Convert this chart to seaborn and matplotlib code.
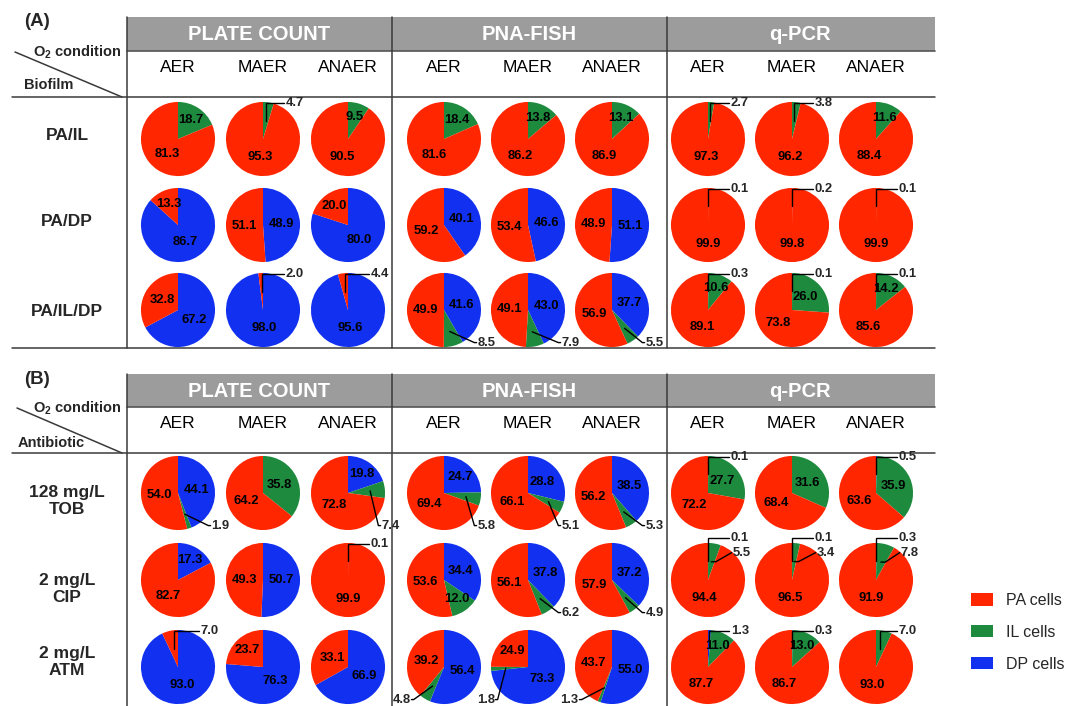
import numpy as np
import matplotlib
matplotlib.use("Agg")
import matplotlib.pyplot as plt
import seaborn as sns
from matplotlib.patches import Patch, Rectangle

# ---------------- data ----------------
methods = ["PLATE COUNT", "PNA-FISH", "q-PCR"]
o2_conditions = ["AER", "MAER", "ANAER"]
cell_types = ["PA cells", "IL cells", "DP cells"]
biofilm_rows = ["PA/IL", "PA/DP", "PA/IL/DP"]
antibiotic_rows = ["128 mg/L\nTOB", "2 mg/L\nCIP", "2 mg/L\nATM"]

# columns: PLATE COUNT (AER, MAER, ANAER), PNA-FISH (...), q-PCR (...)
A_PA = [[81.3, 95.3, 90.5, 81.6, 86.2, 86.9, 97.3, 96.2, 88.4],
        [13.3, 51.1, 20.0, 59.2, 53.4, 48.9, 99.9, 99.8, 99.9],
        [32.8, 2.0, 4.4, 49.9, 49.1, 56.9, 89.1, 73.8, 85.6]]
A_IL = [[18.7, 4.7, 9.5, 18.4, 13.8, 13.1, 2.7, 3.8, 11.6],
        [0, 0, 0, 0, 0, 0, 0, 0, 0],
        [0, 0, 0, 8.5, 7.9, 5.5, 10.6, 26.0, 14.2]]
A_DP = [[0, 0, 0, 0, 0, 0, 0, 0, 0],
        [86.7, 48.9, 80.0, 40.1, 46.6, 51.1, 0.1, 0.2, 0.1],
        [67.2, 98.0, 95.6, 41.6, 43.0, 37.7, 0.3, 0.1, 0.1]]

B_PA = [[54.0, 64.2, 72.8, 69.4, 66.1, 56.2, 72.2, 68.4, 63.6],
        [82.7, 49.3, 99.9, 53.6, 56.1, 57.9, 94.4, 96.5, 91.9],
        [7.0, 23.7, 33.1, 39.2, 24.9, 43.7, 87.7, 86.7, 93.0]]
B_IL = [[1.9, 35.8, 7.4, 5.8, 5.1, 5.3, 27.7, 31.6, 35.9],
        [0, 0, 0, 12.0, 6.2, 4.9, 5.5, 3.4, 7.8],
        [0, 0, 0, 4.8, 1.8, 1.3, 11.0, 13.0, 7.0]]
B_DP = [[44.1, 0, 19.8, 24.7, 28.8, 38.5, 0.1, 0, 0.5],
        [17.3, 50.7, 0.1, 34.4, 37.8, 37.2, 0.1, 0.1, 0.3],
        [93.0, 76.3, 66.9, 56.4, 73.3, 55.0, 1.3, 0.3, 0]]

# ---------------- style ----------------
sns.set_theme(style="white")
plt.rcParams['font.family'] = ['Liberation Sans', 'DejaVu Sans']
plt.rcParams['mathtext.fontset'] = 'custom'
plt.rcParams['mathtext.rm'] = 'Liberation Sans'
plt.rcParams['mathtext.bf'] = 'Liberation Sans:bold'

palette = sns.color_palette(["#FF2600", "#1E8A3E", "#1230F0"])  # PA, IL, DP
PA_C, IL_C, DP_C = palette
LINE_C = "#3a3a3a"

W, H = 1077, 706
fig = plt.figure(figsize=(W / 100, H / 100), dpi=100)
bg = fig.add_axes([0, 0, 1, 1])
bg.set_xlim(0, W)
bg.set_ylim(H, 0)
bg.axis('off')

col_x = [178, 263, 348, 444, 528, 612, 708, 792, 876]
method_x = [259, 529, 800]
vlines_x = [127, 392, 667]
x_left, x_right = 12, 935

VAL_FS = 9.4


def draw_pie(cx, cy, dp, il, pa):
    ax = fig.add_axes([(cx - 50) / W, 1 - (cy + 50) / H, 100 / W, 100 / H])
    vals = [dp, il, pa]
    wedges, _ = ax.pie(vals, colors=[DP_C, IL_C, PA_C], startangle=90,
                       counterclock=False, radius=1,
                       wedgeprops=dict(linewidth=0))
    ax.set_xlim(-1.35, 1.35)
    ax.set_ylim(-1.35, 1.35)
    ax.set_aspect('equal')
    ax.axis('off')
    top_leaders, other_leaders = [], []
    for w, v in zip(wedges, vals):
        if v <= 0:
            continue
        mid = np.deg2rad((w.theta1 + w.theta2) / 2)
        label = f"{v:.1f}"
        if v >= 9:
            r = 0.62 if v < 25 else 0.5
            ax.text(r * np.cos(mid), r * np.sin(mid), label, ha='center',
                    va='center', fontsize=VAL_FS, fontweight='bold',
                    color='black')
        elif np.sin(mid) > 0.8:
            top_leaders.append((mid, label))
        else:
            other_leaders.append((mid, label))
    for k, (mid, label) in enumerate(top_leaders):
        axx = 0.5 * np.cos(mid)
        ayy = 0.5 * np.sin(mid)
        if k == 0:
            yt = 0.98 if len(top_leaders) == 1 else 1.13
            ax.plot([axx, axx, 0.58], [ayy, yt, yt], color='black', lw=1.0,
                    solid_joinstyle='miter', clip_on=False)
            ax.text(0.62, yt, label, ha='left', va='center', fontsize=VAL_FS,
                    fontweight='bold', clip_on=False)
        else:
            yt = 0.74
            ax.plot([axx, axx + 0.12, 0.64], [ayy, ayy, yt], color='black',
                    lw=1.0, clip_on=False)
            ax.text(0.66, yt, label, ha='left', va='center', fontsize=VAL_FS,
                    fontweight='bold', clip_on=False)
    for mid, label in other_leaders:
        axx = 0.6 * np.cos(mid)
        ayy = 0.6 * np.sin(mid)
        s = 1 if np.cos(mid) >= -0.05 else -1
        tx, ty = 0.9 * s, -0.88
        ax.plot([axx, tx - 0.08 * s, tx - 0.02 * s], [ayy, ty, ty],
                color='black', lw=1.0, clip_on=False)
        ax.text(tx, ty, label, ha='left' if s > 0 else 'right', va='center',
                fontsize=VAL_FS, fontweight='bold', clip_on=False)


panels = [
    dict(tag="(A)", tag_y=22, bar=(17, 51), sub_y=68, line_y=97,
         rows_y=[139, 225, 310], label_y=[136, 222, 311], bottom=348,
         bottom_line=True,
         diag=((15, 52), (122, 97)), o2_y=52, corner_y=85, corner_x=24,
         corner="Biofilm", rows=biofilm_rows, PA=A_PA, IL=A_IL, DP=A_DP),
    dict(tag="(B)", tag_y=380, bar=(374, 407), sub_y=423, line_y=453,
         rows_y=[493, 580, 667], label_y=[501, 589, 662], bottom=706,
         bottom_line=False,
         diag=((17, 408), (122, 453)), o2_y=408, corner_y=443, corner_x=18,
         corner="Antibiotic", rows=antibiotic_rows, PA=B_PA, IL=B_IL, DP=B_DP),
]

for p in panels:
    bg.text(24, p["tag_y"], p["tag"], ha='left', va='center', fontsize=13.5,
            fontweight='bold')
    y0, y1 = p["bar"]
    bg.add_patch(Rectangle((vlines_x[0], y0), x_right - vlines_x[0], y1 - y0,
                           facecolor="#9c9c9c", edgecolor='none', zorder=1))
    bg.plot([vlines_x[0], x_right], [y1, y1], color="#555555", lw=1.2, zorder=2)
    for mx, m in zip(method_x, methods):
        bg.text(mx, (y0 + y1) / 2 + 1, m, ha='center', va='center',
                fontsize=14.5, fontweight='bold', color='white', zorder=3)
    for j, cx in enumerate(col_x):
        bg.text(cx, p["sub_y"], o2_conditions[j % 3], ha='center', va='center',
                fontsize=12.5, color='black')
    for vx in vlines_x:
        bg.plot([vx, vx], [y0, p["bottom"]], color=LINE_C, lw=1.1, zorder=2)
    bg.plot([x_left, x_right], [p["line_y"], p["line_y"]], color=LINE_C, lw=1.1)
    if p["bottom_line"]:
        bg.plot([x_left, x_right], [p["bottom"], p["bottom"]], color=LINE_C,
                lw=1.1)
    (dx0, dy0), (dx1, dy1) = p["diag"]
    bg.plot([dx0, dx1], [dy0, dy1], color=LINE_C, lw=1.1)
    bg.text(122, p["o2_y"], r"O$_\mathbf{2}$ condition", ha='right',
            va='center', fontsize=10.5, fontweight='bold')
    bg.text(p["corner_x"], p["corner_y"], p["corner"], ha='left', va='center',
            fontsize=10.5, fontweight='bold')
    for i, ry in enumerate(p["rows_y"]):
        bg.text(67, p["label_y"][i], p["rows"][i], ha='center', va='center',
                fontsize=12.5, fontweight='bold', linespacing=1.2)
        for j, cx in enumerate(col_x):
            draw_pie(cx, ry, p["DP"][i][j], p["IL"][i][j], p["PA"][i][j])

handles = [Patch(facecolor=c, edgecolor='none') for c in (PA_C, IL_C, DP_C)]
fig.legend(handles, cell_types, loc='upper left',
           bbox_to_anchor=(971 / W, 1 - 593 / H), frameon=False, fontsize=11.5,
           handlelength=1.36, handleheight=0.8, handletextpad=0.85,
           labelspacing=1.05, borderpad=0, borderaxespad=0)

fig.savefig("out.png", dpi=100)
